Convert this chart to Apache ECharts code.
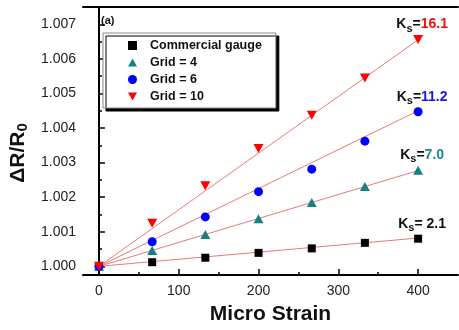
<!DOCTYPE html>
<html>
<head>
<meta charset="utf-8">
<script src="https://cdn.jsdelivr.net/npm/echarts@6/dist/echarts.min.js"></script>
<style>
	html, body { margin: 0; padding: 0; background: #fff; }
	#chart { width: 459px; height: 330px; }
</style>
</head>
<body>
<div id="chart"></div>
<script>
	// micro strain steps
	var strain = [0, 66.7, 133.3, 200, 266.7, 333.3, 400];
	var commercial = [1.0000, 1.00012, 1.00025, 1.00039, 1.00052, 1.00068, 1.00080];
	var grid4 = [1.0000, 1.00046, 1.00092, 1.00138, 1.00185, 1.00231, 1.00278];
	var grid6 = [1.0000, 1.00071, 1.00143, 1.00216, 1.00281, 1.00362, 1.00447];
	var grid10 = [1.0000, 1.00125, 1.00233, 1.00341, 1.00437, 1.00545, 1.00656];
	// linear fits, end points at 0 and 400
	var fitX = [0, 400];
	var fitCommercial = [1.0000, 1.00082];
	var fitGrid4 = [1.0000, 1.00277];
	var fitGrid6 = [1.0000, 1.00450];
	var fitGrid10 = [1.0000, 1.00655];
	var gaugeFactor = [' 2.1', '7.0', '11.2', '16.1'];
	var yTicks = [1.000, 1.001, 1.002, 1.003, 1.004, 1.005, 1.006, 1.007];
	var yMinorTicks = [1.0005, 1.0015, 1.0025, 1.0035, 1.0045, 1.0055, 1.0065];
	var xTicks = [0, 100, 200, 300, 400];
	var xMinorTicks = [50, 150, 250, 350];

	var font = '"Liberation Sans", Arial, sans-serif';
	var fitColor = '#e87a7a';

	function pts(ys, xs) {
		return ys.map(function(v, i) { return [xs[i], v]; });
	}

	function withLabel(ys, k, color) {
		var d = pts(ys, strain);
		var last = d.length - 1;
		d[last] = {
			value: d[last],
			label: {
				show: true,
				position: 'top',
				distance: 1,
				offset: [4, 0],
				formatter: '{k|K}{s|s}{k|=}{v|' + gaugeFactor[k] + '}',
				rich: {
					k: { fontSize: 14, fontWeight: 'bold', color: '#111', fontFamily: font },
					s: { fontSize: 11, fontWeight: 'bold', color: '#111', fontFamily: font, padding: [8, 0, 0, 0] },
					v: { fontSize: 14, fontWeight: 'bold', color: color, fontFamily: font }
				}
			}
		};
		return d;
	}

	function fitLine(ys) {
		return {
			type: 'line',
			data: pts(ys, fitX),
			symbol: 'none',
			silent: true,
			z: 1,
			lineStyle: { color: fitColor, width: 1 }
		};
	}

	var option = {
		animation: false,
		backgroundColor: '#fff',
		grid: { left: 83, right: 1, top: 7, bottom: 53 },
		legend: {
			orient: 'vertical',
			left: 103,
			top: 33,
			padding: [6, 14, 5, 25],
			itemWidth: 9,
			itemHeight: 9,
			itemGap: 4,
			backgroundColor: '#fff',
			borderColor: '#888',
			borderWidth: 1,
			shadowColor: '#000',
			shadowBlur: 0,
			shadowOffsetX: 3,
			shadowOffsetY: 3,
			textStyle: { fontSize: 12.5, fontWeight: 'bold', color: '#111', fontFamily: font, padding: [0, 0, 0, 8] },
			data: [
				{ name: 'Commercial gauge', icon: 'path://M1,1L8,1L8,8L1,8Z' },
				{ name: 'Grid = 4', icon: 'path://M5,0L10,9L0,9Z' },
				{ name: 'Grid = 6', icon: 'circle' },
				{ name: 'Grid = 10', icon: 'path://M0,0L10,0L5,9Z' }
			]
		},
		graphic: [{
			type: 'text',
			left: 101,
			top: 15,
			style: { text: '(a)', fontSize: 11, fontWeight: 'bold', fill: '#111', fontFamily: font }
		}],
		xAxis: [{
			type: 'value',
			min: -20,
			max: 450,
			name: 'Micro Strain',
			nameLocation: 'middle',
			nameGap: 29,
			nameTextStyle: { fontSize: 21, fontWeight: 'bold', color: '#111', fontFamily: font },
			axisLine: { lineStyle: { color: '#000', width: 2 } },
			axisTick: { inside: true, length: 6, lineStyle: { color: '#000', width: 1.5 }, customValues: xTicks },
			axisLabel: { customValues: xTicks, fontSize: 14, color: '#222', margin: 9, fontFamily: font },
			splitLine: { show: false }
		}, {
			type: 'value',
			min: -20,
			max: 450,
			position: 'bottom',
			axisLine: { show: false },
			axisTick: { inside: true, length: 3, lineStyle: { color: '#000', width: 1.5 }, customValues: xMinorTicks },
			axisLabel: { show: false },
			splitLine: { show: false }
		}, {
			type: 'value',
			min: -20,
			max: 450,
			position: 'top',
			axisLine: { lineStyle: { color: '#000', width: 2 } },
			axisTick: { show: false },
			axisLabel: { show: false },
			splitLine: { show: false }
		}],
		yAxis: [{
			type: 'value',
			min: 0.99975,
			max: 1.0075,
			name: '{m|ΔR/R}{s|0}',
			nameLocation: 'middle',
			nameGap: 48,
			nameRotate: 90,
			nameTextStyle: {
				padding: [0, 24, 0, 0],
				rich: {
					m: { fontSize: 21, fontWeight: 'bold', color: '#111', fontFamily: font },
					s: { fontSize: 15, fontWeight: 'bold', color: '#111', fontFamily: font, padding: [8, 0, 0, 0] }
				}
			},
			axisLine: { lineStyle: { color: '#000', width: 2 } },
			axisTick: { inside: true, length: 6, lineStyle: { color: '#000', width: 1.5 }, customValues: yTicks },
			axisLabel: {
				customValues: yTicks,
				fontSize: 14,
				color: '#222',
				margin: 7,
				fontFamily: font,
				formatter: function(v) { return v.toFixed(3); }
			},
			splitLine: { show: false }
		}, {
			type: 'value',
			min: 0.99975,
			max: 1.0075,
			position: 'left',
			axisLine: { show: false },
			axisTick: { inside: true, length: 3, lineStyle: { color: '#000', width: 1.5 }, customValues: yMinorTicks },
			axisLabel: { show: false },
			splitLine: { show: false }
		}],
		series: [
			fitLine(fitCommercial),
			fitLine(fitGrid4),
			fitLine(fitGrid6),
			fitLine(fitGrid10),
			{
				name: 'Commercial gauge',
				type: 'scatter',
				symbol: 'rect',
				symbolSize: 8,
				z: 3,
				itemStyle: { color: '#000', opacity: 1 },
				data: withLabel(commercial, 0, '#111')
			}, {
				name: 'Grid = 4',
				type: 'scatter',
				symbol: 'triangle',
				symbolSize: [10, 9],
				z: 3,
				itemStyle: { color: '#138282', opacity: 1 },
				data: withLabel(grid4, 1, '#1a8a8a')
			}, {
				name: 'Grid = 6',
				type: 'scatter',
				symbol: 'circle',
				symbolSize: 9,
				z: 3,
				itemStyle: { color: '#0000ff', opacity: 1 },
				data: withLabel(grid6, 2, '#1515e8')
			}, {
				name: 'Grid = 10',
				type: 'scatter',
				symbol: 'triangle',
				symbolRotate: 180,
				symbolSize: [10, 9],
				z: 3,
				itemStyle: { color: '#ff0000', opacity: 1 },
				data: withLabel(grid10, 3, '#ee1111')
			}
		]
	};

	var myChart = echarts.init(document.getElementById('chart'));
	myChart.setOption(option);
</script>
</body>
</html>
